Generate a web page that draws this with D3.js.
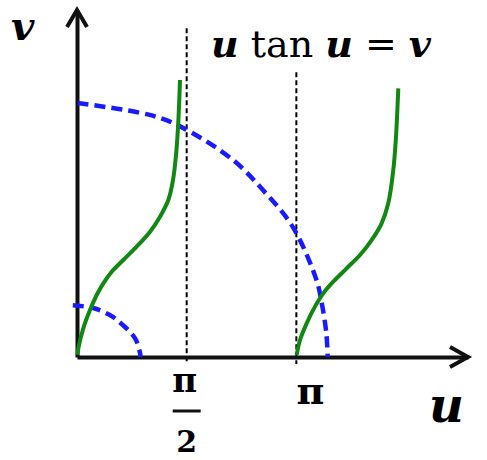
<!DOCTYPE html>
<html>
<head>
<meta charset="utf-8">
<script src="https://cdn.jsdelivr.net/npm/d3@7/dist/d3.min.js"></script>
<style>
  body { margin: 0; background: #fff; }
  svg { display: block; }
</style>
</head>
<body>
<svg width="487" height="460"></svg>
<script>
// branch 1 of u tan u = v
var branch1U = [0.007, 0.019, 0.090, 0.186, 0.282, 0.377, 0.497, 0.663, 0.854, 1.046, 1.189, 1.308, 1.375, 1.418, 1.447, 1.465, 1.475];
var branch1V = [0.03, 0.124, 0.410, 0.672, 0.886, 1.053, 1.219, 1.387, 1.577, 1.791, 2.006, 2.244, 2.53, 2.887, 3.287, 3.673, 3.959];

// branch 2 (starts at pi)
var branch2U = [3.146, 3.194, 3.289, 3.408, 3.527, 3.670, 3.862, 4.053, 4.220, 4.363, 4.458, 4.530, 4.569, 4.588, 4.602];
var branch2V = [0.029, 0.243, 0.481, 0.72, 0.91, 1.076, 1.267, 1.458, 1.672, 1.911, 2.197, 2.673, 3.149, 3.53, 3.84];

// large circle (dashed)
var bigU = [0.01, 1.04, 1.47, 2.23, 2.66, 3.09, 3.43, 3.50, 3.57, 3.59];
var bigV = [3.63, 3.46, 3.30, 2.82, 2.39, 1.86, 1.10, 0.80, 0.35, 0];

// small circle (dashed)
var smallU = [-0.06, 0.23, 0.47, 0.62, 0.83, 0.90, 0.91];
var smallV = [0.74, 0.70, 0.60, 0.49, 0.27, 0.07, 0];

// vertical dashed guides
var guideU = [Math.PI / 2, Math.PI];
var guideTop = [4.7, 4.07];

var svg = d3.select("svg");

var x = d3.scaleLinear().domain([0, 5.6]).range([77, 468]);
var y = d3.scaleLinear().domain([0, 4.96]).range([357, 10]);

function pts(us, vs) {
    return us.map(function(u, i) { return [u, vs[i]]; });
}

var line = d3.line()
    .x(function(d) { return x(d[0]); })
    .y(function(d) { return y(d[1]); })
    .curve(d3.curveCatmullRom.alpha(0.5));

// guides
svg.selectAll(".guide").data(guideU)
    .enter().append("line")
    .attr("class", "guide")
    .attr("x1", function(d) { return x(d); })
    .attr("x2", function(d) { return x(d); })
    .attr("y1", function(d, i) { return y(guideTop[i]); })
    .attr("y2", y(0) + 7)
    .attr("stroke", "#000")
    .attr("stroke-width", 2)
    .attr("stroke-dasharray", "5,3");

// axes
var xAxis = d3.axisBottom(x).tickValues([]).tickSizeOuter(0);
var yAxis = d3.axisLeft(y).tickValues([]).tickSizeOuter(0);

svg.append("g")
    .attr("transform", "translate(0," + y(0) + ")")
    .call(xAxis)
    .select(".domain")
    .attr("stroke", "#111")
    .attr("stroke-width", 4);

svg.append("g")
    .attr("transform", "translate(" + x(0) + ",0)")
    .call(yAxis)
    .select(".domain")
    .attr("stroke", "#111")
    .attr("stroke-width", 4);

// arrow heads
svg.append("path")
    .attr("d", "M" + (x(5.6) - 18) + "," + (y(0) - 10) + "L" + x(5.6) + "," + y(0) + "L" + (x(5.6) - 18) + "," + (y(0) + 10))
    .attr("fill", "none")
    .attr("stroke", "#111")
    .attr("stroke-width", 4);

svg.append("path")
    .attr("d", "M" + (x(0) - 10) + "," + (y(4.96) + 17) + "L" + x(0) + "," + y(4.96) + "L" + (x(0) + 10) + "," + (y(4.96) + 17))
    .attr("fill", "none")
    .attr("stroke", "#111")
    .attr("stroke-width", 4);

// dashed circles
[pts(bigU, bigV), pts(smallU, smallV)].forEach(function(d) {
    svg.append("path")
        .attr("d", line(d))
        .attr("fill", "none")
        .attr("stroke", "#1a1aff")
        .attr("stroke-width", 4.5)
        .attr("stroke-dasharray", "11,6");
});

// green branches
[pts(branch1U, branch1V), pts(branch2U, branch2V)].forEach(function(d) {
    svg.append("path")
        .attr("d", line(d))
        .attr("fill", "none")
        .attr("stroke", "#118811")
        .attr("stroke-width", 4);
});

// labels
var serif = "'DejaVu Serif', 'Liberation Serif', serif";

svg.append("text")
    .attr("x", 11).attr("y", 40)
    .style("font-family", serif)
    .style("font-size", "40px")
    .style("font-style", "italic")
    .style("font-weight", "bold")
    .text("v");

svg.append("text")
    .attr("x", 429).attr("y", 422)
    .style("font-family", serif)
    .style("font-size", "48px")
    .style("font-style", "italic")
    .style("font-weight", "bold")
    .text("u");

var title = svg.append("text")
    .attr("x", 211).attr("y", 57)
    .style("font-family", serif)
    .style("font-size", "38px");
title.append("tspan").style("font-style", "italic").style("font-weight", "bold").text("u");
title.append("tspan").text(" tan ");
title.append("tspan").style("font-style", "italic").style("font-weight", "bold").text("u");
title.append("tspan").text(" = ");
title.append("tspan").style("font-style", "italic").style("font-weight", "bold").text("v");

// pi/2 tick label
var half = x(Math.PI / 2);
svg.append("text")
    .attr("x", half - 2).attr("y", 392)
    .attr("text-anchor", "middle")
    .style("font-family", serif)
    .style("font-size", "34px")
    .style("font-weight", "bold")
    .text("π");
svg.append("line")
    .attr("x1", half - 14).attr("x2", half + 14)
    .attr("y1", 411).attr("y2", 411)
    .attr("stroke", "#111")
    .attr("stroke-width", 3);
svg.append("text")
    .attr("x", half).attr("y", 452)
    .attr("text-anchor", "middle")
    .style("font-family", serif)
    .style("font-size", "30px")
    .style("font-weight", "bold")
    .text("2");

// pi tick label
svg.append("text")
    .attr("x", x(Math.PI) + 14).attr("y", 404)
    .attr("text-anchor", "middle")
    .style("font-family", serif)
    .style("font-size", "38px")
    .style("font-weight", "bold")
    .text("π");
</script>
</body>
</html>
